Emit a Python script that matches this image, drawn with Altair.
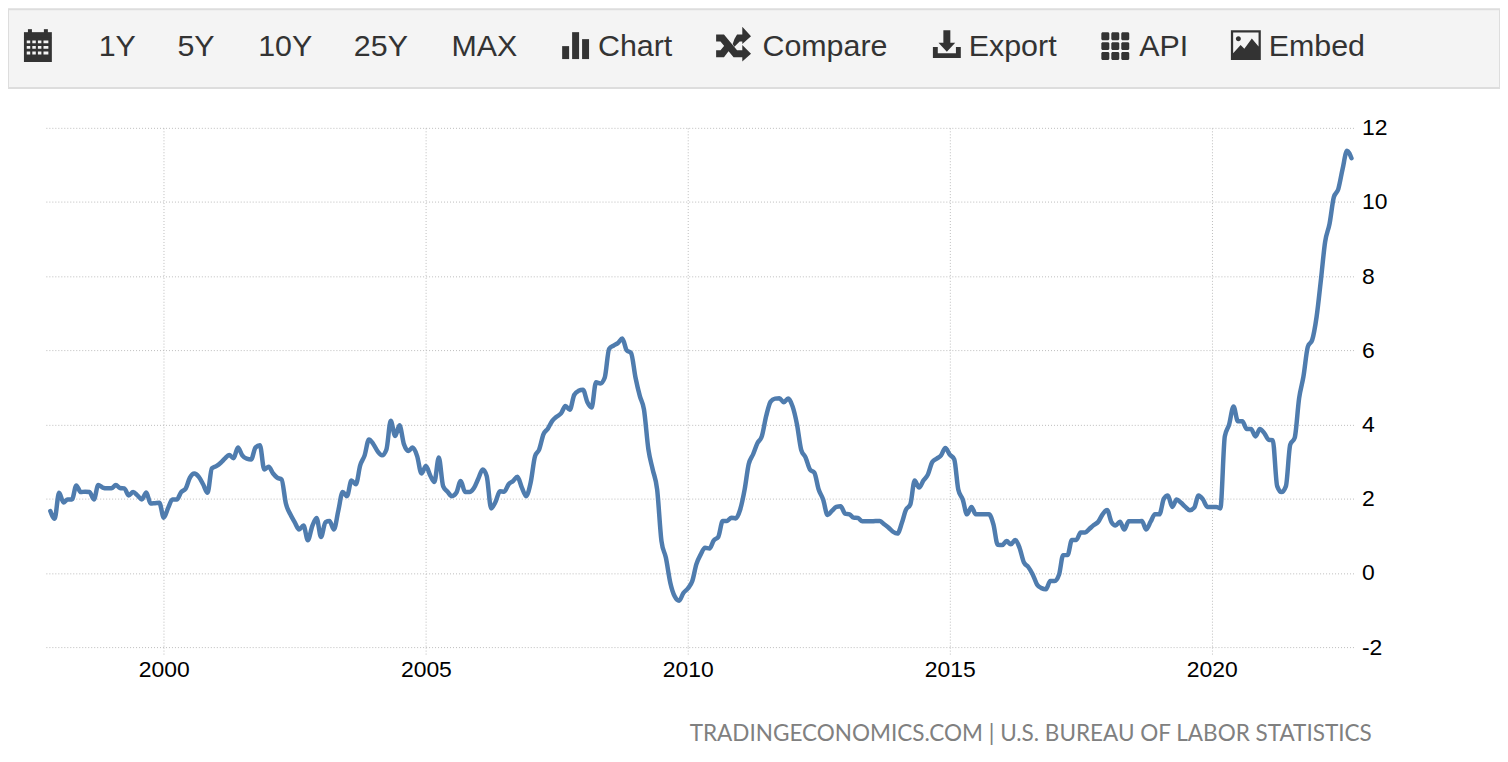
import altair as alt
import pandas as pd

# Monthly values. First value is Nov 1997.
START_YEAR, START_MONTH = 1997, 11
v1997 = [1.67, 1.46]
v1998 = [2.16, 1.90, 1.98, 1.98, 2.36, 2.18, 2.19, 2.18, 1.98, 2.37, 2.30, 2.28]
v1999 = [2.28, 2.37, 2.29, 2.28, 2.09, 2.18, 2.09, 1.98, 2.17, 1.87, 1.88, 1.89]
v2000 = [1.49, 1.76, 1.98, 1.98, 2.18, 2.27, 2.57, 2.68, 2.59, 2.39, 2.16, 2.82]
v2001 = [2.88, 2.97, 3.08, 3.18, 3.09, 3.38, 3.17, 3.08, 3.06, 3.38, 3.44, 2.79]
v2002 = [2.86, 2.68, 2.57, 2.52, 1.87, 1.58, 1.37, 1.17, 1.28, 0.88, 1.26, 1.48]
v2003 = [0.97, 1.37, 1.40, 1.17, 1.67, 2.18, 2.07, 2.49, 2.39, 2.90, 3.17, 3.60]
v2004 = [3.47, 3.27, 3.17, 3.33, 4.10, 3.69, 3.98, 3.47, 3.29, 3.38, 3.15, 2.68]
v2005 = [2.88, 2.62, 2.45, 3.11, 2.34, 2.19, 2.07, 2.16, 2.48, 2.18, 2.18, 2.28]
v2006 = [2.54, 2.79, 2.61, 1.74, 1.91, 2.20, 2.19, 2.39, 2.48, 2.59, 2.30, 2.07]
v2007 = [2.43, 3.15, 3.32, 3.74, 3.89, 4.10, 4.21, 4.30, 4.50, 4.40, 4.80, 4.91]
v2008 = [4.94, 4.60, 4.46, 5.14, 5.11, 5.27, 6.04, 6.13, 6.20, 6.32, 6.00, 5.93]
v2009 = [5.27, 4.76, 4.41, 3.33, 2.79, 2.25, 0.86, 0.41, -0.27, -0.63, -0.75, -0.54]
v2010 = [-0.42, -0.22, 0.23, 0.50, 0.68, 0.66, 0.88, 0.97, 1.40, 1.40, 1.49, 1.47]
v2011 = [1.71, 2.25, 2.93, 3.20, 3.50, 3.69, 4.23, 4.62, 4.70, 4.71, 4.60, 4.70]
v2012 = [4.49, 4.00, 3.32, 3.11, 2.79, 2.70, 2.25, 1.98, 1.56, 1.67, 1.78, 1.80]
v2013 = [1.60, 1.58, 1.49, 1.48, 1.39, 1.39, 1.39, 1.40, 1.40, 1.31, 1.22, 1.11]
v2014 = [1.06, 1.35, 1.70, 1.85, 2.49, 2.30, 2.49, 2.65, 2.99, 3.08, 3.17, 3.37]
v2015 = [3.19, 3.06, 2.25, 1.98, 1.58, 1.78, 1.58, 1.58, 1.58, 1.58, 1.31, 0.76]
v2016 = [0.75, 0.86, 0.77, 0.89, 0.68, 0.28, 0.16, -0.04, -0.32, -0.41, -0.44, -0.22]
v2017 = [-0.22, -0.04, 0.48, 0.48, 0.89, 0.89, 1.09, 1.09, 1.19, 1.29, 1.38, 1.58]
v2018 = [1.70, 1.37, 1.28, 1.38, 1.17, 1.39, 1.39, 1.39, 1.40, 1.17, 1.38, 1.58]
v2019 = [1.58, 2.00, 2.09, 1.78, 1.98, 1.89, 1.78, 1.69, 1.76, 2.09, 1.98, 1.78]
v2020 = [1.78, 1.78, 1.74, 3.68, 4.00, 4.49, 4.09, 4.09, 3.88, 3.88, 3.68, 3.88]
v2021 = [3.77, 3.59, 3.58, 2.34, 2.18, 2.34, 3.46, 3.64, 4.71, 5.29, 6.10, 6.28]
v2022 = [6.91, 7.94, 8.92, 9.41, 10.13, 10.35, 10.89, 11.38, 11.18]

series = (v1997 + v1998 + v1999 + v2000 + v2001 + v2002 + v2003 + v2004 + v2005
          + v2006 + v2007 + v2008 + v2009 + v2010 + v2011 + v2012 + v2013 + v2014
          + v2015 + v2016 + v2017 + v2018 + v2019 + v2020 + v2021 + v2022)
dates = pd.date_range(f"{START_YEAR}-{START_MONTH:02d}-01", periods=len(series), freq="MS")
table = pd.DataFrame({"date": dates.strftime("%Y-%m-%d"), "value": series})

x_ticks = ["2000-01-01", "2005-01-01", "2010-01-01", "2015-01-01", "2020-01-01"]
y_ticks = [-2, 0, 2, 4, 6, 8, 10, 12]
footer = "TRADINGECONOMICS.COM | U.S. BUREAU OF LABOR STATISTICS"

# Page geometry: view origin is at page (46, 127); SVG origin at page (8, 8).
OX, OY = 46, 127
W, H = 1312, 521
GRID = "#bdbdbd"
INK = "#333333"
ONE = alt.Data(values=[{"k": 1}])


def px(v):
    return alt.value(v - OX)


def py(v):
    return alt.value(v - OY)


def rect(x0, y0, x1, y1, fill=INK, **kw):
    return alt.Chart(ONE).mark_rect(fill=fill, **kw).encode(
        x=px(x0), x2=px(x1), y=py(y0), y2=py(y1))


def label(text, x, y, size, font="Liberation Sans", color=INK):
    return alt.Chart(ONE).mark_text(
        align="left", baseline="alphabetic", font=font, fontSize=size, color=color
    ).encode(x=px(x), y=py(y), text=alt.value(text))


def icon(path, cx, cy, w, color=INK):
    return alt.Chart(ONE).mark_point(
        shape=path, filled=True, fill=color, opacity=1, strokeWidth=0, size=w * w
    ).encode(x=px(cx), y=py(cy))


line = alt.Chart(table).mark_line(
    color="#4f7cae", strokeWidth=4.5, interpolate="monotone", clip=False,
    strokeCap="round", strokeJoin="round"
).encode(
    x=alt.X("date:T",
            scale=alt.Scale(type="utc", domain=["1997-10-01", "2022-09-15"]),
            axis=alt.Axis(values=x_ticks, format="%Y", title=None, grid=True,
                          gridColor=GRID, gridDash=[1, 2], gridWidth=1,
                          domain=False, ticks=True, tickColor=GRID, tickDash=[1, 2],
                          tickSize=8, labelFontSize=23, labelFont="Liberation Sans",
                          labelColor="#000000", labelPadding=4, labelFlush=False)),
    y=alt.Y("value:Q",
            scale=alt.Scale(domain=[-2, 12], nice=False),
            axis=alt.Axis(values=y_ticks, orient="right", title=None, grid=True,
                          gridColor=GRID, gridDash=[1, 2], gridWidth=1,
                          domain=False, ticks=False, labelFontSize=23,
                          labelFont="Liberation Sans", labelColor="#000000",
                          labelPadding=8, labelAlign="left",
                          labelExpr="'' + datum.value")),
)

layers = [
    rect(8, 8, 1505, 87, fill="#f4f4f4", stroke="#dddddd", strokeWidth=2),
    # calendar
    rect(24, 31, 52, 37), rect(28, 28, 32, 33), rect(44, 28, 48, 33),
    icon("M-1,-0.75H1V1H-1Z"
         "M-0.8,-0.55V-0.35H-0.55V-0.55ZM-0.4,-0.55V-0.35H-0.15V-0.55ZM0,-0.55V-0.35H0.25V-0.55ZM0.4,-0.55V-0.35H0.75V-0.55Z"
         "M-0.8,-0.15V0.05H-0.55V-0.15ZM-0.4,-0.15V0.05H-0.15V-0.15ZM0,-0.15V0.05H0.25V-0.15ZM0.4,-0.15V0.05H0.75V-0.15Z"
         "M-0.8,0.25V0.45H-0.55V0.25ZM-0.4,0.25V0.45H-0.15V0.25ZM0,0.25V0.45H0.25V0.25ZM0.4,0.25V0.45H0.75V0.25Z",
         38, 47, 28),
    # bars
    rect(564, 45, 571, 58), rect(574, 31, 581, 58), rect(584, 38, 591, 58),
    # shuffle
    icon("M-1,-0.55H-0.55L0.2,0.35H0.5V0.05L1,0.55L0.5,1V0.75H0L-0.75,-0.15H-1Z"
         "M-1,0.35H-0.75L-0.45,0L-0.2,0.3L-0.55,0.75H-1Z"
         "M0.05,-0.3L0.2,-0.55H0.5V-1L1,-0.45L0.5,0V-0.15H0.35L0.05,0.15L-0.05,0Z",
         736, 43, 35),
    # export
    icon("M-0.25,-1H0.25V-0.1H0.6L0,0.55L-0.6,-0.1H-0.25Z"
         "M-1,0.2H-0.65V0.65H0.65V0.2H1V1H-1Z", 950, 43, 28),
    # api grid
    *[rect(1105 + 10 * i, 31 + 10 * j, 1113 + 10 * i, 39 + 10 * j, cornerRadius=1.5)
      for i in range(3) for j in range(3)],
    # embed
    icon("M-1,-1H1V1H-1Z"
         "M-0.85,-0.85V0.55L-0.35,0L-0.1,0.25L0.4,-0.45L0.85,0.1V-0.85Z", 1250, 44, 30),
    rect(1240, 35, 1245, 40, cornerRadius=2.5),
    label("1Y", 99, 55, 30.5), label("5Y", 178, 55, 30.5), label("10Y", 259, 55, 30.5),
    label("25Y", 355, 55, 30.5), label("MAX", 453, 55, 30.5), label("Chart", 600, 55, 30.5),
    label("Compare", 765, 55, 30.5), label("Export", 972, 55, 30.5),
    label("API", 1143, 55, 30.5), label("Embed", 1273, 55, 30.5),
    line,
    label(footer, 692, 742, 22.6, font="Lato", color="#808080"),
]

chart = alt.layer(*layers).properties(
    width=W, height=H,
    autosize=alt.AutoSizeParams(type="none"),
    padding={"left": OX - 8, "top": OY - 8, "right": 1505 - (OX + W), "bottom": 750 - (OY + H)},
).configure_view(stroke=None)

chart.save("out.html", embed_options={"renderer": "svg", "actions": False})
